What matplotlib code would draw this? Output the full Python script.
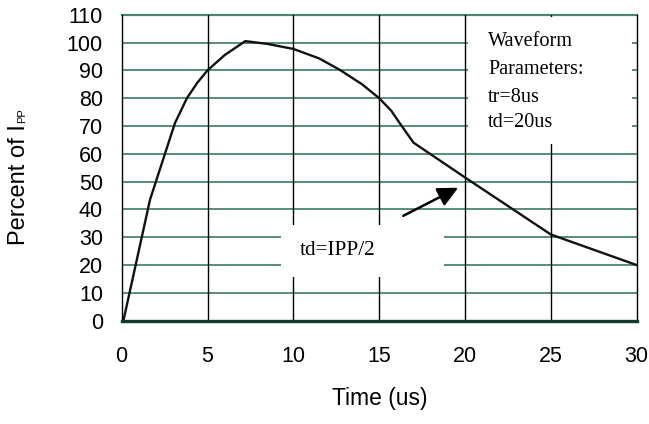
#!/usr/bin/env python3
"""Surge current waveform: percent of IPP vs time."""
import numpy as np, matplotlib
matplotlib.use('Agg'); import matplotlib.pyplot as plt
from matplotlib.patches import Rectangle

# waveform
time_us = [0.1, 1.65, 3.1, 3.8, 4.4, 5.0, 6.0, 7.2, 8.5, 10.0, 11.5, 12.7,
           14.0, 15.0, 15.7, 16.2, 17.0, 20.0, 25.0, 30.0]
percent = [0, 43.5, 71, 80, 85.5, 90, 95.5, 100.5, 99.5, 97.7, 94.3, 90.2,
           85, 80, 75.5, 71, 64, 51.5, 31, 20]
x_ticks = [0, 5, 10, 15, 20, 25, 30]
y_ticks = list(range(0, 111, 10))
param_lines = ["Waveform", "Parameters:", "tr=8us", "td=20us"]
note = "td=IPP/2"

fig = plt.figure(figsize=(6.49, 4.24), dpi=100)
ax = fig.add_axes([0.1875, 0.2436, 0.7935, 0.7217])
ax.set_xlim(0, 30); ax.set_ylim(0, 110)

grid_c = '#4d8575'
for y in y_ticks[1:-1]:
    ax.axhline(y, color=grid_c, lw=1.3, zorder=1)
ax.axhline(110, color=grid_c, lw=1.6, zorder=1, clip_on=False)
for x in x_ticks[1:-1]:
    ax.axvline(x, color='black', lw=1.0, zorder=1)

# white boxes that hide the grid behind the notes
ax.add_patch(Rectangle((20.15, 63.5), 9.55, 45.8, facecolor='white', edgecolor='none', zorder=2))
ax.add_patch(Rectangle((9.27, 15.8), 9.53, 18.7, facecolor='white', edgecolor='none', zorder=2))

ax.plot(time_us, percent, color='#111111', lw=1.7, zorder=4, solid_joinstyle='round')

ax.spines['top'].set_visible(False)
ax.spines['left'].set_color('black'); ax.spines['left'].set_linewidth(1.0)
ax.spines['right'].set_color('black'); ax.spines['right'].set_linewidth(1.0)
ax.spines['bottom'].set_color('#0f3a2a'); ax.spines['bottom'].set_linewidth(2.4)
for s in ax.spines.values():
    s.set_zorder(5)

ax.set_xticks(x_ticks); ax.set_yticks(y_ticks)
ax.tick_params(axis='x', length=0, pad=18, labelsize=15.5)
ax.tick_params(axis='y', length=0, pad=13.5, labelsize=15.5)
for lab in ax.get_xticklabels() + ax.get_yticklabels():
    lab.set_fontfamily('Liberation Sans')

serif = 'Liberation Serif'
for txt, yv in zip(param_lines, [98.6, 88.7, 78.8, 69.8]):
    ax.text(21.35, yv, txt, fontsize=14.6, family=serif, va='baseline', ha='left', zorder=6)
ax.text(12.6, 25.1, note, fontsize=15.3, family=serif, va='center', ha='center', zorder=6)

ax.annotate('', xy=(19.6, 47.8), xytext=(16.4, 37.7),
            arrowprops=dict(arrowstyle='-|>,head_length=0.55,head_width=0.27',
                            color='black', lw=1.8, mutation_scale=22, shrinkA=0, shrinkB=0),
            zorder=6)

fig.text(380 / 649, 1 - 399 / 424, "Time (us)", fontsize=16.5, family='Liberation Sans',
         ha='center', va='center')

# y label: "Percent of I" with small "PP" on the baseline
x_base = 25 / 649; y_start = 1 - 245 / 424
t1 = fig.text(x_base, y_start, "Percent of I", fontsize=17, family='Liberation Sans',
              rotation=90, rotation_mode='anchor', ha='left', va='baseline')
fig.canvas.draw()
ext = t1.get_window_extent(fig.canvas.get_renderer())
y_end = y_start + (ext.height + 1) / fig.bbox.height
fig.text(x_base, y_end, "PP", fontsize=8, family='Liberation Sans',
         rotation=90, rotation_mode='anchor', ha='left', va='baseline')

plt.savefig("out.png", dpi=100)
plt.close()
